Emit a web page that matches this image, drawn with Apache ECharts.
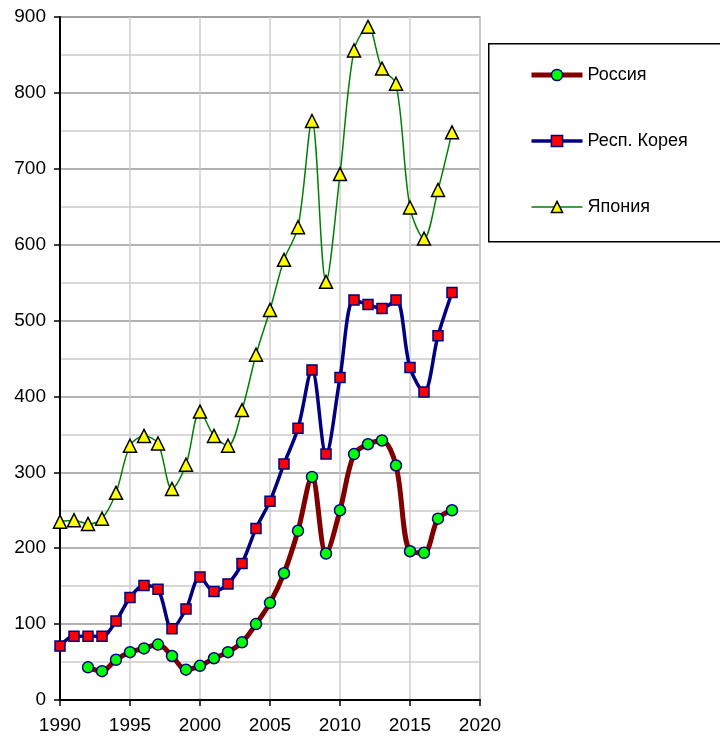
<!DOCTYPE html>
<html>
<head>
<meta charset="utf-8">
<script src="https://cdn.jsdelivr.net/npm/echarts@6/dist/echarts.min.js"></script>
<style>html,body{margin:0;padding:0;background:#fff}#c{width:720px;height:736px}</style>
</head>
<body>
<div id="c"></div>
<script>
const yearsJapan = [1990,1991,1992,1993,1994,1995,1996,1997,1998,1999,2000,2001,2002,2003,2004,2005,2006,2007,2008,2009,2010,2011,2012,2013,2014,2015,2016,2017,2018];
const japan = [235,237,232,239,273,335,348,338,278,310,380,348,335,382,455,514,580,623,763,551,693,856,887,832,812,649,608,672,748];
const yearsKorea = yearsJapan;
const korea = [71,84,84,84,104,135,151,146,94,120,162,143,153,180,226,262,311,358,435,324,425,527,521,516,527,438,406,480,537];
const yearsRussia = [1992,1993,1994,1995,1996,1997,1998,1999,2000,2001,2002,2003,2004,2005,2006,2007,2008,2009,2010,2011,2012,2013,2014,2015,2016,2017,2018];
const russia = [43,38,53,63,68,73,58,40,45,55,63,76,100,128,167,223,294,193,250,324,337,342,309,196,194,239,250];
const seriesNames = ['Россия','Респ. Корея','Япония'];

const pairs = (xs, ys) => xs.map((x, i) => [x, ys[i]]);
const font = '"Liberation Sans", Arial, sans-serif';

const styles = [
  {line: {color: '#800000', width: 5}, item: {color: '#00ff00', borderColor: '#000080', borderWidth: 1.5}, symbol: 'circle', size: 11},
  {line: {color: '#000080', width: 3.5}, item: {color: '#ff0000', borderColor: '#000080', borderWidth: 1.5}, symbol: 'rect', size: 10},
  {line: {color: '#008000', width: 1.5}, item: {color: '#ffff00', borderColor: '#000', borderWidth: 1.5}, symbol: 'triangle', size: 13}
];
const datasets = [pairs(yearsRussia, russia), pairs(yearsKorea, korea), pairs(yearsJapan, japan)];

const chart = echarts.init(document.getElementById('c'), null, {renderer: 'canvas'});
chart.setOption({
  animation: false,
  backgroundColor: '#fff',
  grid: {left: 60, top: 17, right: 240, bottom: 36, show: true, borderColor: '#999', borderWidth: 1.5, containLabel: false},
  graphic: [{
    type: 'rect', left: 488, top: 43, z: 0,
    shape: {x: 0, y: 0, width: 240, height: 198},
    style: {fill: '#fff', stroke: '#000', lineWidth: 1.5}
  }],
  legend: {
    orient: 'vertical', left: 529, top: 66, z: 10, padding: 0,
    itemWidth: 51, itemHeight: 14, itemGap: 48,
    textStyle: {fontSize: 18, fontFamily: font, color: '#000'},
    data: seriesNames.map((n, i) => ({
      name: n,
      lineStyle: {color: styles[i].line.color, width: styles[i].line.width},
      itemStyle: styles[i].item
    }))
  },
  xAxis: {
    type: 'value', min: 1990, max: 2020, interval: 5,
    axisLine: {show: true, lineStyle: {color: '#000', width: 2}},
    axisTick: {show: true, length: 6, lineStyle: {color: '#000', width: 1.5}},
    axisLabel: {fontSize: 19, fontFamily: font, color: '#000', margin: 16, formatter: v => String(v)},
    splitLine: {show: true, lineStyle: {color: '#ccc', width: 1.5}}
  },
  yAxis: {
    type: 'value', min: 0, max: 900, interval: 100,
    axisLine: {show: true, lineStyle: {color: '#000', width: 2}},
    axisTick: {show: true, length: 6, lineStyle: {color: '#000', width: 1.5}},
    axisLabel: {fontSize: 19, fontFamily: font, color: '#000', margin: 14},
    splitLine: {show: true, lineStyle: {color: '#999', width: 1.5}},
    minorTick: {show: false, splitNumber: 2},
    minorSplitLine: {show: true, lineStyle: {color: '#ccc', width: 1.5}}
  },
  series: seriesNames.map((n, i) => ({
    name: n, type: 'line', smooth: 0.33, data: datasets[i],
    lineStyle: styles[i].line, itemStyle: styles[i].item,
    symbol: styles[i].symbol, symbolSize: styles[i].size, z: 3 + i
  }))
});
</script>
</body>
</html>
